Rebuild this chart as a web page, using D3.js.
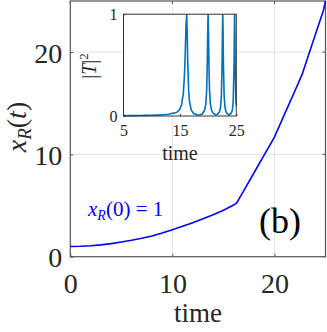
<!DOCTYPE html>
<html><head><meta charset="utf-8">
<script src="https://cdn.jsdelivr.net/npm/d3@7"></script>
<style>
html,body{margin:0;padding:0;background:#fff;}
svg{display:block;}
</style></head>
<body>
<svg id="c" width="327" height="332"></svg>
<script>
// Main curve x_R(t)
const mainT = [0,1,2,3,4,5,6,7,8,9,10,11,12,13,14,15,16,16.3,17,18,19,20,21,22,22.7,23,24,24.8,25];
const mainX = [1.0,1.02,1.07,1.16,1.28,1.43,1.6,1.8,2.03,2.31,2.64,2.97,3.32,3.7,4.1,4.55,5.05,5.25,6.47,8.21,9.95,11.7,13.96,16.2,17.8,18.7,21.7,24.1,25.0];
const mainXTicks = [0,10,20];
const mainYTicks = [0,10,20];

// Inset |T|^2
const insetT = [5,6,7,8,9,10,11,12,12.5,13,13.5,14,14.5,15,15.3,15.6,15.8,15.95,16.08,16.2,16.3,16.4,16.55,16.7,17.0,17.4,18.0,18.5,19.0,19.4,19.6,19.75,19.85,19.93,20.0,20.07,20.15,20.25,20.4,20.6,20.9,21.3,21.6,22.0,22.2,22.35,22.48,22.55,22.6,22.65,22.72,22.85,23.0,23.2,23.5,23.7,24.1,24.3,24.45,24.6,24.66,24.7,24.75,24.8,24.9,25.0];
const insetY = [0.003,0.004,0.004,0.005,0.006,0.007,0.009,0.012,0.014,0.018,0.024,0.028,0.038,0.066,0.112,0.22,0.39,0.62,0.88,1.0,0.8,0.5,0.25,0.14,0.059,0.027,0.012,0.01,0.022,0.059,0.12,0.26,0.5,0.82,1.0,0.82,0.5,0.26,0.12,0.059,0.027,0.013,0.014,0.038,0.083,0.19,0.5,0.85,1.0,0.85,0.5,0.19,0.083,0.038,0.017,0.01,0.027,0.059,0.14,0.5,0.86,1.0,0.8,0.5,0.2,0.1];
const insetXTicks = [5,15,25];
const insetYTicks = [0,1];

const FONT = "Liberation Serif";
const svg = d3.select("#c");
const axisCol = "#555", textCol = "#262626", gridCol = "#e3e3e3";

// ---------- main axes ----------
const M = {l:70.3, r:325.5, t:1, b:256.7};
const x = d3.scaleLinear().domain([0,25]).range([M.l, M.r]);
const y = d3.scaleLinear().domain([0,25]).range([M.b, M.t]);

const g = svg.append("g");
g.selectAll(".gx").data(mainXTicks.filter(d=>d>0)).join("line")
  .attr("x1",d=>x(d)).attr("x2",d=>x(d)).attr("y1",M.t).attr("y2",M.b)
  .attr("stroke",gridCol).attr("stroke-width",1);
g.selectAll(".gy").data(mainYTicks.filter(d=>d>0)).join("line")
  .attr("y1",d=>y(d)).attr("y2",d=>y(d)).attr("x1",M.l).attr("x2",M.r)
  .attr("stroke",gridCol).attr("stroke-width",1);

const xAxis = g.append("g").attr("transform",`translate(0,${M.b})`)
  .call(d3.axisBottom(x).tickValues(mainXTicks).tickSizeInner(-3).tickSizeOuter(0).tickPadding(0));
xAxis.attr("font-family",FONT);
xAxis.select(".domain").remove();
xAxis.selectAll(".tick line").attr("stroke",axisCol);
xAxis.selectAll(".tick text").text(d=>d).attr("y",36).attr("dy",null)
  .attr("font-size",28).attr("fill",textCol).attr("font-family",FONT);

const yAxis = g.append("g").attr("transform",`translate(${M.l},0)`)
  .call(d3.axisLeft(y).tickValues(mainYTicks).tickSizeInner(-3).tickSizeOuter(0).tickPadding(0));
yAxis.attr("font-family",FONT);
yAxis.select(".domain").remove();
yAxis.selectAll(".tick line").attr("stroke",axisCol);
yAxis.selectAll(".tick text").text(d=>d).attr("x",-8).attr("dy",null).attr("y",10)
  .attr("font-size",28).attr("fill",textCol).attr("font-family",FONT);

g.selectAll(".rt").data(mainYTicks).join("line")
  .attr("x1",M.r).attr("x2",M.r-3).attr("y1",d=>y(d)).attr("y2",d=>y(d)).attr("stroke",axisCol);
g.selectAll(".tt").data(mainXTicks).join("line")
  .attr("y1",M.t).attr("y2",M.t+3).attr("x1",d=>x(d)).attr("x2",d=>x(d)).attr("stroke",axisCol);

g.append("rect").attr("x",M.l).attr("y",M.t).attr("width",M.r-M.l).attr("height",M.b-M.t)
  .attr("fill","none").attr("stroke",axisCol).attr("stroke-width",1.2);

const mainData = mainT.map((t,i)=>[t,mainX[i]]);
g.append("path").datum(mainData)
  .attr("d",d3.line().x(d=>x(d[0])).y(d=>y(d[1])))
  .attr("fill","none").attr("stroke","#0000ff").attr("stroke-width",1.6);

g.append("text").attr("x",(M.l+M.r)/2).attr("y",322).attr("text-anchor","middle")
  .attr("font-family",FONT).attr("font-size",27).attr("fill",textCol).text("time");

const yl = g.append("text").attr("transform","translate(26,127) rotate(-90)")
  .attr("font-family",FONT).attr("text-anchor","middle").attr("font-size",28).attr("fill",textCol);
yl.append("tspan").attr("font-style","italic").text("x");
yl.append("tspan").attr("font-style","italic").attr("font-size",19).attr("dy",5).text("R");
yl.append("tspan").attr("dy",-5).text("(");
yl.append("tspan").attr("font-style","italic").text("t");
yl.append("tspan").text(")");

const ann = g.append("text").attr("x",88).attr("y",216).attr("font-family",FONT)
  .attr("font-size",21).attr("fill","#0000ff");
ann.append("tspan").attr("font-style","italic").text("x");
ann.append("tspan").attr("font-style","italic").attr("font-size",14).attr("dy",4).text("R");
ann.append("tspan").attr("dy",-4).text("(0) = 1");

g.append("text").attr("x",259).attr("y",233).attr("font-family",FONT)
  .attr("font-size",36).attr("fill","#000").text("(b)");

// ---------- inset ----------
const I = {l:123.5, r:236.3, t:14.2, b:116};
const xi = d3.scaleLinear().domain([5,25]).range([I.l, I.r]);
const yi = d3.scaleLinear().domain([0,1]).range([I.b, I.t]);
const gi = svg.append("g");
gi.append("rect").attr("x",I.l).attr("y",I.t).attr("width",I.r-I.l).attr("height",I.b-I.t)
  .attr("fill","#fff");

const xia = gi.append("g").attr("transform",`translate(0,${I.b})`)
  .call(d3.axisBottom(xi).tickValues(insetXTicks).tickSizeInner(-2).tickSizeOuter(0).tickPadding(0));
xia.attr("font-family",FONT);
xia.select(".domain").remove();
xia.selectAll(".tick line").attr("stroke","#333");
xia.selectAll(".tick text").text(d=>d).attr("y",20).attr("dy",null)
  .attr("font-size",16).attr("fill",textCol).attr("font-family",FONT);
const yia = gi.append("g").attr("transform",`translate(${I.l},0)`)
  .call(d3.axisLeft(yi).tickValues(insetYTicks).tickSizeInner(-2).tickSizeOuter(0).tickPadding(0));
yia.attr("font-family",FONT);
yia.select(".domain").remove();
yia.selectAll(".tick line").attr("stroke","#333");
yia.selectAll(".tick text").text(d=>d).attr("x",-6).attr("y",5).attr("dy",null)
  .attr("font-size",16).attr("fill",textCol).attr("font-family",FONT);

const insetData = insetT.map((t,i)=>[t,insetY[i]]);
gi.append("path").datum(insetData)
  .attr("d",d3.line().x(d=>xi(d[0])).y(d=>yi(d[1])))
  .attr("fill","none").attr("stroke","#0072BD").attr("stroke-width",1.6);

gi.append("rect").attr("x",I.l).attr("y",I.t).attr("width",I.r-I.l).attr("height",I.b-I.t)
  .attr("fill","none").attr("stroke","#333").attr("stroke-width",1);

gi.append("text").attr("x",(I.l+I.r)/2).attr("y",160).attr("text-anchor","middle")
  .attr("font-family",FONT).attr("font-size",20).attr("fill",textCol).text("time");

const il = gi.append("text").attr("transform","translate(96,66) rotate(-90)")
  .attr("font-family",FONT).attr("text-anchor","middle").attr("font-size",20).attr("fill",textCol);
il.append("tspan").text("|");
il.append("tspan").attr("font-style","italic").text("T");
il.append("tspan").text("|");
il.append("tspan").attr("font-size",13).attr("dy",-8).text("2");
</script>
</body></html>
